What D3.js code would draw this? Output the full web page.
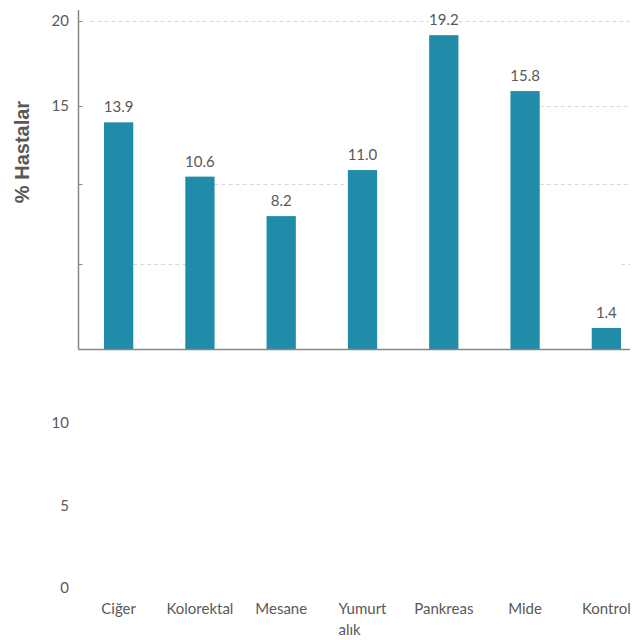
<!DOCTYPE html>
<html>
<head>
<meta charset="utf-8">
<script src="https://cdn.jsdelivr.net/npm/d3@7"></script>
<style>
  html, body { margin: 0; padding: 0; background: #fff; }
  svg { display: block; }
</style>
</head>
<body>
<svg id="chart" width="639" height="640"></svg>
<script>
// ---- data ----
const categories = ["Ciğer", "Kolorektal", "Mesane", "Yumurtalık", "Pankreas", "Mide", "Kontrol"];
const categoryLines = [["Ciğer"], ["Kolorektal"], ["Mesane"], ["Yumurt", "alık"], ["Pankreas"], ["Mide"], ["Kontrol"]];
const values = [13.9, 10.6, 8.2, 11.0, 19.2, 15.8, 1.4];
const valueLabels = ["13.9", "10.6", "8.2", "11.0", "19.2", "15.8", "1.4"];
const upperTicks = [20, 15];
const lowerTicks = [10, 5, 0];
const gridValues = [20, 15, 10, 5];
const yTitle = "% Hastalar";
// visible gridline pieces (from right edge of a bar / to left edge of a bar)
const gridSegments = [
  { v: 20, from: null, to: "Pankreas" },
  { v: 20, from: "Pankreas", to: null },
  { v: 15, from: "Mide", to: null },
  { v: 10, from: "Kolorektal", to: "Yumurtalık" },
  { v: 10, from: "Mide", to: null },
  { v: 5, from: "Ciğer", to: "Kolorektal" },
  { v: 5, from: "Kontrol", to: null }
];

// ---- layout ----
const svg = d3.select("#chart");
const axisX = 78.5, axisY = 349.5, plotTop = 10, plotRight = 630;
const textColor = "#595959";
const barColor = "#218CAA";
const labelFont = "Lato, 'Open Sans', sans-serif";

const x = d3.scaleBand().domain(categories).range([78, 647]).paddingInner(0.64).paddingOuter(0.32);
const y = d3.scaleLinear().domain([0, 20]).range([351, 22]);
const yGrid = d3.scaleLinear().domain([5, 10, 15, 20]).range([264, 183.5, 106, 21]);
const yLow = d3.scaleLinear().domain([0, 10]).range([593, 428]);

// gridlines
svg.append("g").selectAll("line").data(gridSegments).join("line")
  .attr("x1", d => d.from ? x(d.from) + x.bandwidth() : axisX + 12)
  .attr("x2", d => d.to ? x(d.to) : plotRight)
  .attr("y1", d => Math.round(yGrid(d.v)) + 0.5)
  .attr("y2", d => Math.round(yGrid(d.v)) + 0.5)
  .attr("stroke", "#D9D9D9").attr("stroke-width", 1)
  .attr("stroke-dasharray", "4,3");

// bars
svg.append("g").selectAll("rect").data(values).join("rect")
  .attr("x", (d, i) => x(categories[i]))
  .attr("y", d => y(d))
  .attr("width", x.bandwidth())
  .attr("height", d => axisY - y(d))
  .attr("fill", barColor);

// value labels
svg.append("g").selectAll("text").data(values).join("text")
  .attr("x", (d, i) => x(categories[i]) + x.bandwidth() / 2)
  .attr("y", d => y(d) - 10)
  .attr("text-anchor", "middle")
  .attr("font-family", labelFont).attr("font-size", 15)
  .attr("fill", textColor)
  .text((d, i) => valueLabels[i]);

// axes lines
svg.append("line").attr("x1", axisX).attr("x2", axisX).attr("y1", plotTop).attr("y2", axisY)
  .attr("stroke", "#868686").attr("stroke-width", 1.5);
svg.append("line").attr("x1", axisX).attr("x2", plotRight).attr("y1", axisY).attr("y2", axisY)
  .attr("stroke", "#868686").attr("stroke-width", 1.5);
// tick marks (inside)
svg.append("g").selectAll("line").data(gridValues).join("line")
  .attr("x1", axisX).attr("x2", axisX + 4)
  .attr("y1", d => Math.round(yGrid(d)) + 0.5).attr("y2", d => Math.round(yGrid(d)) + 0.5)
  .attr("stroke", "#868686").attr("stroke-width", 1);

// upper tick labels
svg.append("g").selectAll("text").data(upperTicks).join("text")
  .attr("x", 69).attr("y", d => yGrid(d) + 5)
  .attr("text-anchor", "end")
  .attr("font-family", labelFont).attr("font-size", 15)
  .attr("fill", textColor).text(d => d);

// lower (displaced) tick labels
svg.append("g").selectAll("text").data(lowerTicks).join("text")
  .attr("x", 69).attr("y", d => yLow(d))
  .attr("text-anchor", "end")
  .attr("font-family", labelFont).attr("font-size", 15)
  .attr("fill", textColor).text(d => d);

// category labels
const cat = svg.append("g").selectAll("text").data(categoryLines).join("text")
  .attr("font-family", labelFont).attr("font-size", 15)
  .attr("fill", textColor)
  .attr("x", (d, i) => x(categories[i]) + x.bandwidth() / 2)
  .attr("y", 614)
  .attr("text-anchor", "middle");
cat.each(function(lines, i) {
  const t = d3.select(this);
  if (lines.length === 1) {
    t.text(lines[0]);
  } else {
    const cx = x(categories[i]) + x.bandwidth() / 2;
    t.attr("text-anchor", "start");
    const tmp = t.append("tspan").text(lines[0]);
    const w = tmp.node().getComputedTextLength();
    tmp.remove();
    lines.forEach((ln, k) => {
      t.append("tspan").attr("x", cx - w / 2).attr("dy", k === 0 ? 0 : 21).text(ln);
    });
  }
});

// y title
svg.append("text")
  .attr("transform", "translate(29,152) rotate(-90)")
  .attr("text-anchor", "middle")
  .attr("font-family", "'Liberation Sans', Arial, sans-serif")
  .attr("font-weight", "bold").attr("font-size", 20)
  .attr("fill", textColor).text(yTitle);
</script>
</body>
</html>
